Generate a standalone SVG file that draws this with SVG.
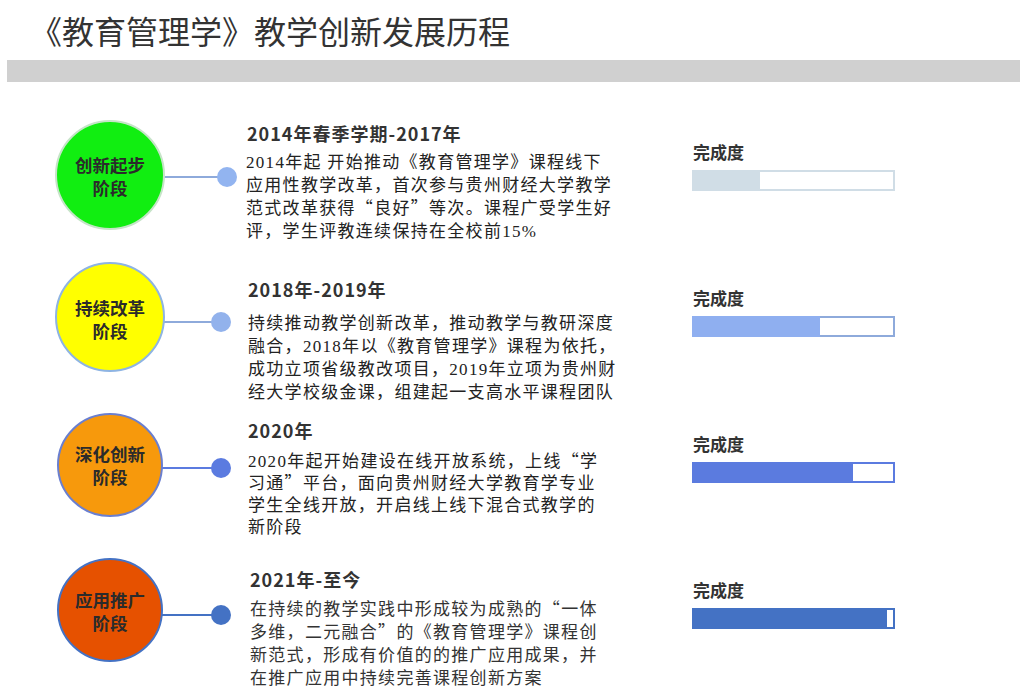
<svg xmlns="http://www.w3.org/2000/svg" width="1024" height="697" viewBox="0 0 1024 697">
<style>
.title{font-family:"Noto Sans CJK SC","Noto Sans",sans-serif;font-size:32px;fill:#333}
.ctext{font-family:"Noto Sans CJK SC",sans-serif;font-size:17.5px;font-weight:bold;fill:#2b2b2b;text-anchor:middle}
.head{font-family:"Noto Sans CJK SC",sans-serif;font-size:18px;font-weight:bold;fill:#333;letter-spacing:1px}
.body{font-family:"Liberation Serif","Noto Sans CJK SC",serif;font-size:17px;letter-spacing:1.3px;fill:#222}
.q{font-family:"Noto Sans CJK SC",sans-serif}
.lbl{font-family:"Noto Sans CJK SC",sans-serif;font-size:17px;font-weight:bold;fill:#333}
.bar{fill:#fff;stroke-width:2}
</style>
<rect width="1024" height="697" fill="#fff"/>
<text class="title" x="30" y="44">《教育管理学》教学创新发展历程</text>
<rect x="7" y="60" width="1013" height="22" fill="#d0d0d0"/>

<g id="connectors">
<line x1="164" y1="177" x2="222" y2="177" stroke="#8eaadb" stroke-width="2"/>
<circle cx="227" cy="177" r="10" fill="#92b4f0"/>
<line x1="164" y1="322" x2="216" y2="322" stroke="#8eaadb" stroke-width="2"/>
<circle cx="221" cy="322" r="10" fill="#92b2ec"/>
<line x1="162" y1="468" x2="216" y2="468" stroke="#5b7be0" stroke-width="2"/>
<circle cx="221" cy="468" r="10" fill="#5b7be0"/>
<line x1="162" y1="615" x2="216" y2="615" stroke="#4472c4" stroke-width="2"/>
<circle cx="221" cy="615" r="10" fill="#4472c4"/>
</g>

<g id="stage1">
<ellipse cx="110" cy="175" rx="54" ry="54" fill="#11ee11" stroke="#c6e4c8" stroke-width="2"/>
<text class="ctext" x="110" y="172">创新起步</text>
<text class="ctext" x="110" y="195">阶段</text>
<text class="head" x="247" y="141">2014年春季学期-2017年</text>
<text class="body" x="246" y="168">2014年起 开始推动《教育管理学》课程线下</text>
<text class="body" x="246" y="191">应用性教学改革，首次参与贵州财经大学教学</text>
<text class="body" x="246" y="214">范式改革获得<tspan class="q">“</tspan>良好<tspan class="q">”</tspan>等次。课程广受学生好</text>
<text class="body" x="246" y="237">评，学生评教连续保持在全校前15%</text>
<text class="lbl" x="693" y="159">完成度</text>
<rect class="bar" x="693" y="171" width="201" height="19" stroke="#d0dde6"/>
<rect x="692" y="170" width="68" height="21" fill="#d0dde6"/>
</g>

<g id="stage2">
<ellipse cx="110" cy="317" rx="54" ry="54" fill="#ffff00" stroke="#8eb4e3" stroke-width="2"/>
<text class="ctext" x="110" y="315">持续改革</text>
<text class="ctext" x="110" y="338">阶段</text>
<text class="head" x="248" y="297">2018年-2019年</text>
<text class="body" x="248" y="329">持续推动教学创新改革，推动教学与教研深度</text>
<text class="body" x="248" y="352">融合，2018年以《教育管理学》课程为依托，</text>
<text class="body" x="248" y="375">成功立项省级教改项目，2019年立项为贵州财</text>
<text class="body" x="248" y="398">经大学校级金课，组建起一支高水平课程团队</text>
<text class="lbl" x="693" y="305">完成度</text>
<rect class="bar" x="693" y="317" width="201" height="19" stroke="#8eaadb"/>
<rect x="692" y="316" width="128" height="21" fill="#8faff0"/>
</g>

<g id="stage3">
<ellipse cx="110" cy="465" rx="52" ry="51" fill="#f7990c" stroke="#6a7fd0" stroke-width="2"/>
<text class="ctext" x="110" y="461">深化创新</text>
<text class="ctext" x="110" y="484">阶段</text>
<text class="head" x="248" y="438">2020年</text>
<text class="body" x="248" y="467">2020年起开始建设在线开放系统，上线<tspan class="q">“</tspan>学</text>
<text class="body" x="248" y="489">习通<tspan class="q">”</tspan>平台，面向贵州财经大学教育学专业</text>
<text class="body" x="248" y="511">学生全线开放，开启线上线下混合式教学的</text>
<text class="body" x="248" y="533">新阶段</text>
<text class="lbl" x="693" y="451">完成度</text>
<rect class="bar" x="693" y="463" width="201" height="19" stroke="#5b7be0"/>
<rect x="692" y="462" width="161" height="21" fill="#5b7bdf"/>
</g>

<g id="stage4">
<ellipse cx="110" cy="610" rx="52" ry="51" fill="#e65100" stroke="#4472c4" stroke-width="2"/>
<text class="ctext" x="110" y="607">应用推广</text>
<text class="ctext" x="110" y="630">阶段</text>
<text class="head" x="250" y="587">2021年-至今</text>
<text class="body" x="250" y="615" style="fill:#333">在持续的教学实践中形成较为成熟的<tspan class="q">“</tspan>一体</text>
<text class="body" x="250" y="638" style="fill:#333">多维，二元融合<tspan class="q">”</tspan>的《教育管理学》课程创</text>
<text class="body" x="250" y="661" style="fill:#333">新范式，形成有价值的的推广应用成果，并</text>
<text class="body" x="250" y="684" style="fill:#333">在推广应用中持续完善课程创新方案</text>
<text class="lbl" x="693" y="597">完成度</text>
<rect class="bar" x="693" y="609" width="201" height="19" stroke="#4472c4"/>
<rect x="692" y="608" width="195" height="21" fill="#4472c4"/>
</g>
</svg>
